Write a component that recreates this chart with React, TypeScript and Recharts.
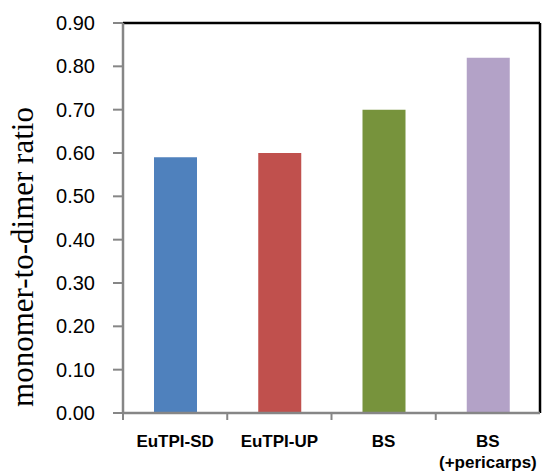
import React from 'react';
import { BarChart, Bar, XAxis, YAxis, Cell, Label, usePlotArea } from 'recharts';

const categories = ['EuTPI-SD', 'EuTPI-UP', 'BS', 'BS (+pericarps)'];
const ratios = [0.59, 0.6, 0.7, 0.82];
const barColors = ['#4F81BD', '#C0504D', '#77933C', '#B3A2C7'];
const yTicks = [0, 0.1, 0.2, 0.3, 0.4, 0.5, 0.6, 0.7, 0.8, 0.9];
const yLabel = 'monomer-to-dimer ratio';

const data = categories.map((name, i) => ({ name, ratio: ratios[i] }));

const CategoryTick = (props: any) => {
  const { x, y, payload } = props;
  const lines = String(payload.value).split(/ (.+)/).filter(Boolean);
  const half = (540 - 123) / categories.length / 2;
  return (
    <g>
      <line x1={x - half} x2={x - half} y1={y - 7} y2={y} stroke="#868686" strokeWidth={2} />
      {lines.map((t: string, i: number) => (
        <text
          key={i}
          x={x}
          y={y + 27 + i * 21}
          textAnchor="middle"
          fontFamily="'Liberation Sans', Arial, sans-serif"
          fontWeight="bold"
          fontSize={17}
          fill="#000"
        >
          {t}
        </text>
      ))}
    </g>
  );
};

// black top and right edges of the plot
const Frame = () => {
  const area = usePlotArea();
  if (!area) return null;
  const { x, y, width, height } = area;
  return (
    <g>
      <line x1={x} x2={x + width} y1={y} y2={y} stroke="#000" strokeWidth={2.5} />
      <line x1={x + width} x2={x + width} y1={y} y2={y + height} stroke="#000" strokeWidth={2.5} />
    </g>
  );
};

export default function App() {
  return (
    <div style={{ position: 'absolute', left: 0, top: 0, background: '#fff' }}>
      <BarChart width={542} height={475} data={data} margin={{ top: 23, right: 2, bottom: 0, left: 0 }}>
        <XAxis
          dataKey="name"
          height={62}
          tickSize={7}
          tickMargin={0}
          tickLine={false}
          interval={0}
          axisLine={{ stroke: '#868686', strokeWidth: 2.5 }}
          tick={<CategoryTick />}
        />
        <YAxis
          domain={[0, 0.9]}
          ticks={yTicks}
          width={123}
          interval={0}
          tickSize={10}
          tickMargin={18}
          tickFormatter={(v: number) => v.toFixed(2)}
          tick={{ fill: '#000', fontSize: 20, fontFamily: "'Liberation Sans', Arial, sans-serif" }}
          tickLine={{ stroke: '#868686', strokeWidth: 2 }}
          axisLine={{ stroke: '#868686', strokeWidth: 2.5 }}
        >
          <Label
            content={() => (
              <text
                transform="translate(33, 257) rotate(-90)"
                textAnchor="middle"
                fontFamily="'Liberation Serif', 'Times New Roman', serif"
                fontSize={31}
                fill="#000"
              >
                {yLabel}
              </text>
            )}
          />
        </YAxis>
        <Bar dataKey="ratio" barSize={43} isAnimationActive={false}>
          {data.map((d, i) => (
            <Cell key={d.name} fill={barColors[i]} />
          ))}
        </Bar>
        <Frame />
      </BarChart>
    </div>
  );
}
